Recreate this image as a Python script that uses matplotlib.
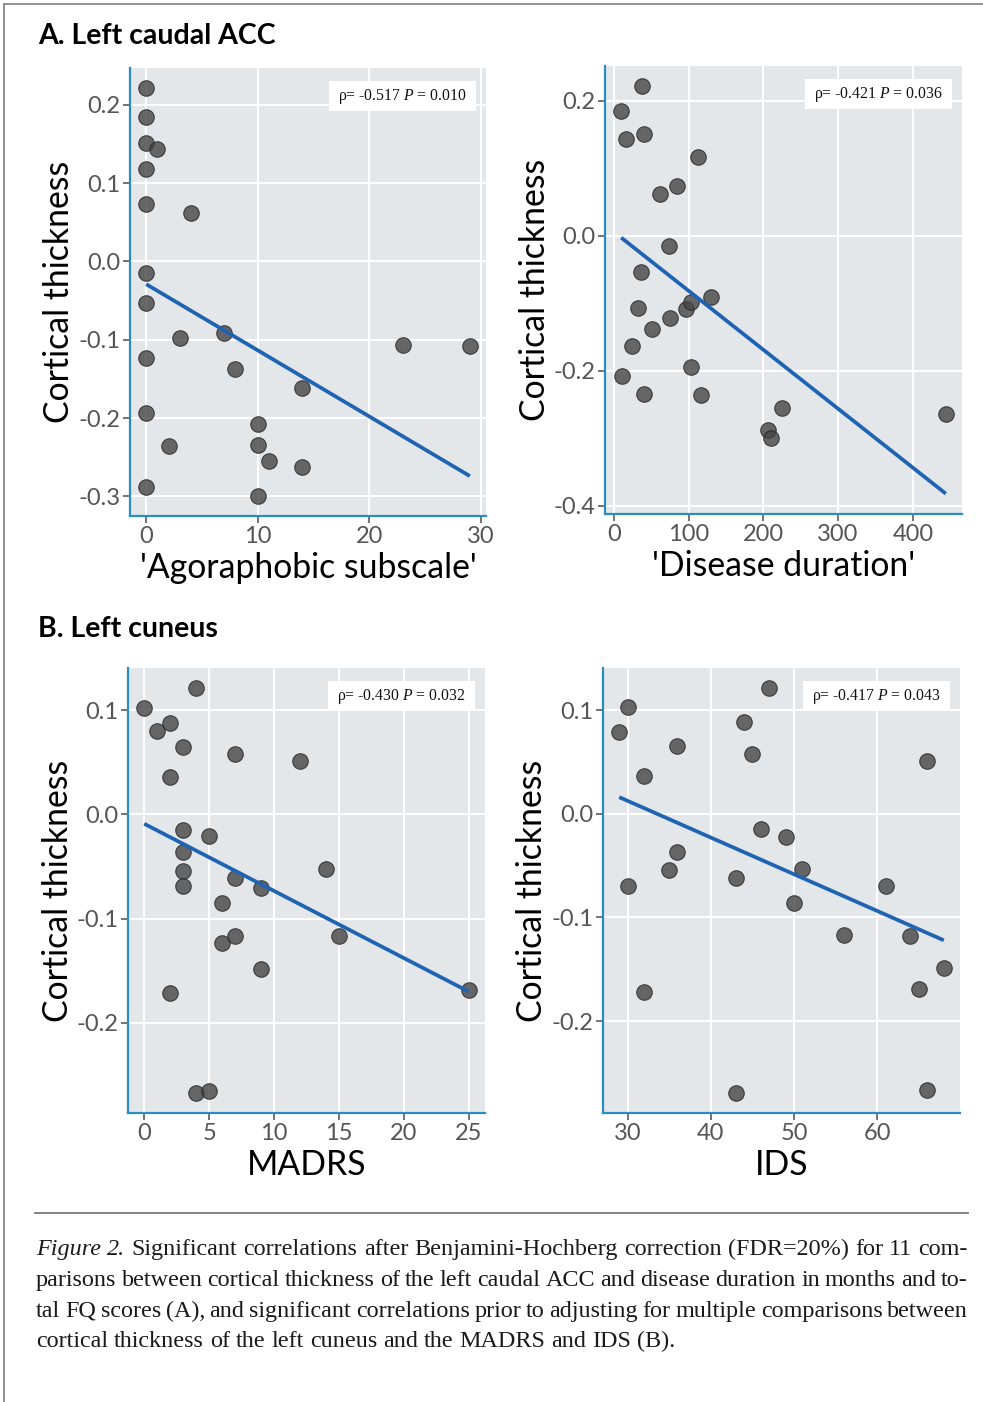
import numpy as np
import matplotlib
matplotlib.use("Agg")
import matplotlib.pyplot as plt
from matplotlib.patches import Rectangle
from matplotlib.lines import Line2D

# ---------------- data ----------------
agora_x = [0, 0, 0, 1, 0, 0, 4, 0, 0, 3, 7, 8, 0, 14, 0, 2, 10, 10, 11, 14, 0, 10, 23, 29]
agora_y = [0.221, 0.185, 0.151, 0.144, 0.118, 0.073, 0.062, -0.015, -0.053, -0.098, -0.091,
           -0.137, -0.123, -0.162, -0.193, -0.235, -0.208, -0.234, -0.255, -0.263, -0.288,
           -0.299, -0.107, -0.108]
agora_fit = [-0.029, -0.274]

dur_x = [38, 10, 16, 41, 112, 85, 62, 74, 37, 33, 51, 25, 11, 40, 75, 97, 103, 130, 103, 117,
         225, 206, 210, 444]
dur_y = [0.221, 0.185, 0.143, 0.151, 0.117, 0.073, 0.062, -0.016, -0.054, -0.107, -0.138,
         -0.163, -0.208, -0.235, -0.122, -0.108, -0.098, -0.091, -0.194, -0.236, -0.255,
         -0.288, -0.299, -0.264]
dur_fit = [-0.003, -0.382]

madrs_x = [0, 4, 1, 2, 3, 7, 2, 12, 3, 5, 3, 3, 3, 7, 9, 14, 6, 6, 7, 15, 9, 2, 25, 4, 5]
madrs_y = [0.1025, 0.121, 0.080, 0.088, 0.065, 0.058, 0.036, 0.051, -0.015, -0.021, -0.036,
           -0.054, -0.069, -0.061, -0.071, -0.052, -0.085, -0.123, -0.117, -0.117, -0.148,
           -0.171, -0.168, -0.267, -0.265]
madrs_fit = [-0.009, -0.170]

ids_x = [29, 30, 30, 32, 32, 36, 36, 35, 43, 43, 44, 45, 47, 46, 49, 51, 50, 56, 61, 64, 66,
         68, 65, 66]
ids_y = [0.079, 0.103, -0.070, 0.036, -0.172, 0.065, -0.037, -0.054, -0.062, -0.269, 0.088,
         0.058, 0.121, -0.015, -0.022, -0.053, -0.086, -0.117, -0.070, -0.118, 0.051, -0.149,
         -0.169, -0.266]
ids_fit = [0.016, -0.122]

rho_labels = ["-0.517", "-0.421", "-0.430", "-0.417"]
p_labels = ["0.010", "0.036", "0.032", "0.043"]
x_titles = ["'Agoraphobic subscale'", "'Disease duration'", "MADRS", "IDS"]
y_title = "Cortical thickness"
x_ticks = [[0, 10, 20, 30], [0, 100, 200, 300, 400], [0, 5, 10, 15, 20, 25], [30, 40, 50, 60]]
y_ticks = [[-0.3, -0.2, -0.1, 0.0, 0.1, 0.2], [-0.4, -0.2, 0.0, 0.2],
           [-0.2, -0.1, 0.0, 0.1], [-0.2, -0.1, 0.0, 0.1]]
section_titles = ["A. Left caudal ACC", "B. Left cuneus"]

caption_lines = [
    [("Figure", "italic"), ("2.", "italic")] + [(w, "normal") for w in
        "Significant correlations after Benjamini-Hochberg correction (FDR=20%) for 11 com-".split()],
    [(w, "normal") for w in
        "parisons between cortical thickness of the left caudal ACC and disease duration in months and to-".split()],
    [(w, "normal") for w in
        "tal FQ scores (A), and significant correlations prior to adjusting for multiple comparisons between".split()],
    [(w, "normal") for w in
        "cortical thickness of the left cuneus and the MADRS and IDS (B).".split()],
]

# ---------------- figure ----------------
W, H = 983, 1402
fig = plt.figure(figsize=(W / 100, H / 100), dpi=100)
fig.patch.set_facecolor("white")

plt.rcParams["mathtext.fontset"] = "custom"
plt.rcParams["mathtext.rm"] = "Liberation Serif"
plt.rcParams["mathtext.it"] = "Liberation Serif:italic"

SANS = ["Lato", "DejaVu Sans"]
SERIF = ["Liberation Serif", "DejaVu Serif"]
PANEL_BG = "#E4E7EA"
SPINE = "#2A8CC2"
LINE = "#1F63B3"


def px_axes(l, t, r, b):
    return fig.add_axes([l / W, 1 - b / H, (r - l) / W, (b - t) / H])


boxes = [(130, 68, 486, 516), (605, 66, 962, 514), (128, 668, 485, 1113), (603, 668, 960, 1113)]
datasets = [(agora_x, agora_y, agora_fit), (dur_x, dur_y, dur_fit),
            (madrs_x, madrs_y, madrs_fit), (ids_x, ids_y, ids_fit)]

for i, (box, (xs, ys, fit)) in enumerate(zip(boxes, datasets)):
    ax = px_axes(*box)
    xs = np.asarray(xs, float)
    ys = np.asarray(ys, float)
    fx = np.array([xs.min(), xs.max()])
    fy = np.asarray(fit, float)
    # ggplot-style 5% expansion
    xlo, xhi = xs.min(), xs.max()
    allY = np.concatenate([ys, fy])
    ylo, yhi = allY.min(), allY.max()
    dx, dy = (xhi - xlo) * 0.05, (yhi - ylo) * 0.05
    ax.set_xlim(xlo - dx, xhi + dx)
    ax.set_ylim(ylo - dy, yhi + dy)

    ax.set_facecolor(PANEL_BG)
    ax.grid(True, color="white", linewidth=1.4, zorder=0)
    ax.set_axisbelow(True)
    for s in ["top", "right"]:
        ax.spines[s].set_visible(False)
    for s in ["left", "bottom"]:
        ax.spines[s].set_color(SPINE)
        ax.spines[s].set_linewidth(1.6)

    ax.scatter(xs, ys, s=125, facecolor=(0.27, 0.27, 0.27, 0.8),
               edgecolor=(0.15, 0.15, 0.15, 0.8), linewidth=0.8, zorder=3)
    ax.plot(fx, fy, color=LINE, linewidth=2.7, solid_capstyle="butt", zorder=4)

    ax.set_xticks(x_ticks[i])
    ax.set_xticklabels([str(v) for v in x_ticks[i]])
    ax.set_yticks(y_ticks[i])
    ax.set_yticklabels([("%.1f" % v).replace("-0.0", "0.0") for v in y_ticks[i]])
    ax.tick_params(axis="both", colors="#4D4D4D", labelsize=17, length=5, width=1.1,
                   pad=2)
    for lab in ax.get_xticklabels() + ax.get_yticklabels():
        lab.set_family(SANS)
        lab.set_color("#555555")
    ax.set_xlabel(x_titles[i], fontsize=24.3, family=SANS, color="black", labelpad=4)
    ax.set_ylabel(y_title, fontsize=24.3, family=SANS, color="black", labelpad=2)

    # annotation box
    bw, bh = 147, 30
    axw, axh = box[2] - box[0], box[3] - box[1]
    bx0 = (axw - 10 - bw) / axw
    by0 = (axh - 13 - bh) / axh
    ax.add_patch(Rectangle((bx0, by0), bw / axw, bh / axh, transform=ax.transAxes,
                           facecolor="white", edgecolor="none", zorder=5))
    ax.text(bx0 + bw / axw / 2, by0 + bh / axh / 2,
            "\u03c1= " + rho_labels[i] + r" $\mathit{P}$ = " + p_labels[i],
            transform=ax.transAxes, ha="center", va="center", fontsize=11.3,
            family=SERIF, color="#111111", zorder=6)

# section titles
fig.text(38 / W, 1 - 36 / H, section_titles[0], fontsize=20.5, fontweight="bold",
         family=SANS, va="center", ha="left")
fig.text(38 / W, 1 - 629 / H, section_titles[1], fontsize=20.5, fontweight="bold",
         family=SANS, va="center", ha="left")

# frame lines and rule
fig.add_artist(Line2D([4 / W, 1.0], [1 - 4 / H, 1 - 4 / H], color="#8a8a8a", linewidth=1.3))
fig.add_artist(Line2D([4 / W, 4 / W], [1 - 4 / H, 0.0], color="#8a8a8a", linewidth=1.3))
fig.add_artist(Line2D([35 / W, 968 / W], [1 - 1213 / H, 1 - 1213 / H], color="#7a7a7a",
                      linewidth=1.3))

# justified caption
fig.canvas.draw()
renderer = fig.canvas.get_renderer()
CAP_FS = 17.4
left_px, right_px = 36, 968
baselines = [1255, 1286, 1317, 1347]


def wwidth(word, style):
    t = fig.text(0, 0, word, fontsize=CAP_FS, family=SERIF, style=style)
    w = t.get_window_extent(renderer).width
    t.remove()
    return w


space_w = wwidth("a b", "normal") - wwidth("ab", "normal")
for li, line in enumerate(caption_lines):
    widths = [wwidth(w, s) for w, s in line]
    if li < len(caption_lines) - 1:
        gap = (right_px - left_px - sum(widths)) / (len(line) - 1)
    else:
        gap = space_w
    x = left_px
    for (w, s), wd in zip(line, widths):
        fig.text(x / W, 1 - baselines[li] / H, w, fontsize=CAP_FS, family=SERIF, style=s,
                 va="baseline", ha="left", color="#1a1a1a")
        x += wd + gap

fig.savefig("out.png", dpi=100, facecolor="white")
